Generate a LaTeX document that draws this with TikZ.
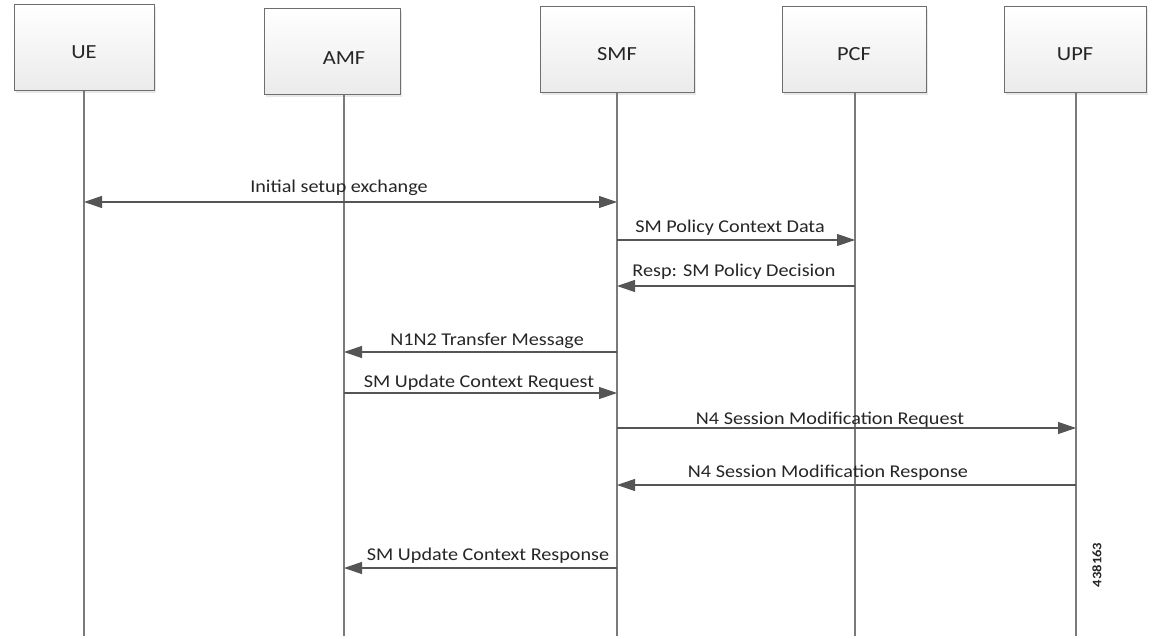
\documentclass[tikz,border=0pt]{standalone}
\usepackage{fontspec}
\setmainfont{Carlito}[FakeStretch=1.12]
\usetikzlibrary{arrows.meta,shadows}
\definecolor{linec}{HTML}{555555}
\definecolor{lifec}{HTML}{7A7A7A}
\definecolor{boxc}{HTML}{6E6E6E}
\definecolor{txtc}{HTML}{262626}
\newcommand{\boxtxt}[1]{\raisebox{-4pt}[\height][0pt]{#1}}
\tikzset{
  entity/.style={draw=boxc, line width=1pt, top color=white, bottom color=black!8,
    minimum width=#1, minimum height=86pt, inner sep=0pt,
    font=\fontsize{20}{24}\selectfont, text=txtc,
    drop shadow={opacity=0.18, shadow xshift=2pt, shadow yshift=-2pt}},
  lifeline/.style={draw=lifec, line width=1.4pt},
  msg/.style={draw=linec, line width=1.1pt, -{Triangle[length=18pt,width=12pt]}},
  bmsg/.style={draw=linec, line width=1.1pt, {Triangle[length=18pt,width=12pt]}-{Triangle[length=18pt,width=12pt]}},
  lbl/.style={font=\fontsize{18}{20}\selectfont, text=txtc, inner sep=1pt, anchor=base}
}
\begin{document}
\begin{tikzpicture}[x=1pt,y=-1pt]
\useasboundingbox (0,0) rectangle (1156,639);
\fill[white] (0,0) rectangle (1156,639);
\node[entity=140pt] (ue)  at (84,48)   {\boxtxt{UE}};
\node[entity=136pt, label={[font=\fontsize{20}{24}\selectfont, text=txtc, xshift=12pt, yshift=-6pt]center:AMF}] (amf) at (332,52) {};
\node[entity=154pt] (smf) at (617,50)  {\boxtxt{SMF}};
\node[entity=144pt] (pcf) at (854,50)  {\boxtxt{PCF}};
\node[entity=142pt] (upf) at (1075,50) {\boxtxt{UPF}};
\coordinate (ueb) at (84,636);
\coordinate (amfb) at (344,636);
\coordinate (smfb) at (617,636);
\coordinate (pcfb) at (855,636);
\coordinate (upfb) at (1076,636);
\coordinate (uet) at (84,91);
\coordinate (amft) at (344,95);
\coordinate (smft) at (617,93);
\coordinate (pcft) at (855,93);
\coordinate (upft) at (1076,93);
\draw[lifeline] (uet) -- (ueb);
\draw[lifeline] (amft) -- (amfb);
\draw[lifeline] (smft) -- (smfb);
\draw[lifeline] (pcft) -- (pcfb);
\draw[lifeline] (upft) -- (upfb);
% message rows
\coordinate (r1) at (0,202);
\coordinate (r2) at (0,240);
\coordinate (r3) at (0,286);
\coordinate (r4) at (0,352);
\coordinate (r5) at (0,393);
\coordinate (r6) at (0,428);
\coordinate (r7) at (0,485);
\coordinate (r8) at (0,568);
\draw[bmsg] (ueb |- r1) -- (smfb |- r1);
\node[lbl] (l1) at (339,193) {Initial setup exchange};
\draw[msg] (smfb |- r2) -- (pcfb |- r2);
\node[lbl] (l2) at (730,233) {SM Policy Context Data};
\draw[msg] (pcfb |- r3) -- (smfb |- r3);
\node[lbl] (l3) at (734,276) {Resp: SM Policy Decision};
\draw[msg] (smfb |- r4) -- (amfb |- r4);
\node[lbl] (l4) at (487,345) {N1N2 Transfer Message};
\draw[msg] (amfb |- r5) -- (smfb |- r5);
\node[lbl] (l5) at (479,387) {SM Update Context Request};
\draw[msg] (smfb |- r6) -- (upfb |- r6);
\node[lbl] (l6) at (830,424) {N4 Session Modification Request};
\draw[msg] (upfb |- r7) -- (smfb |- r7);
\node[lbl] (l7) at (828,477) {N4 Session Modification Response};
\draw[msg] (smfb |- r8) -- (amfb |- r8);
\node[lbl] (l8) at (488,560) {SM Update Context Response};
\node[font=\fontsize{13}{14}\selectfont\bfseries, text=txtc, rotate=90] (fig) at (1097,565) {438163};
\end{tikzpicture}
\end{document}
